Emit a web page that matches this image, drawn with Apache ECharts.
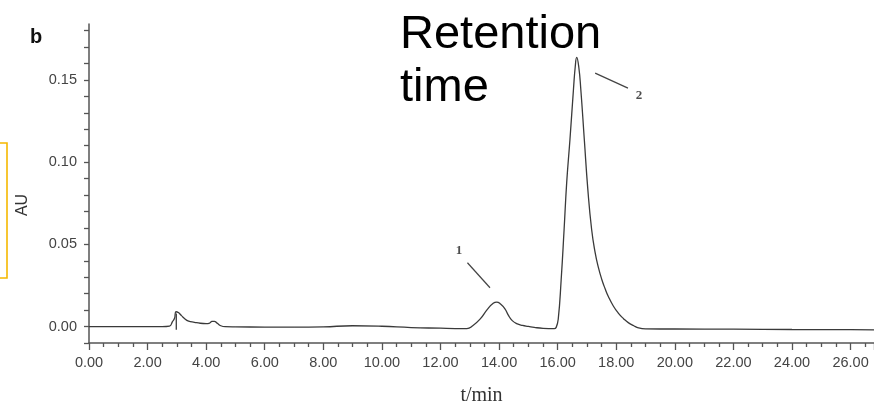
<!DOCTYPE html>
<html>
<head>
<meta charset="utf-8">
<script src="https://cdn.jsdelivr.net/npm/echarts@6/dist/echarts.min.js"></script>
<style>
html,body{margin:0;padding:0;background:#fff;}
#c{width:874px;height:403px;}
</style>
</head>
<body>
<div id="c"></div>
<script>
// Chromatogram: retention time (min) and absorbance (AU)
var times = [0, 0.5, 1, 1.5, 2, 2.5, 2.75, 2.85, 2.92, 2.97, 3.05, 3.15, 3.25, 3.4, 3.6, 3.8, 4.0, 4.1, 4.2, 4.28, 4.38, 4.5, 4.65, 5, 6, 7, 8, 9, 10, 11, 12, 12.5, 12.9, 13.1, 13.35, 13.6, 13.8, 13.92, 14.05, 14.2, 14.32, 14.45, 14.6, 14.8, 15.0, 15.2, 15.5, 15.88, 15.95, 16.02, 16.12, 16.22, 16.31, 16.42, 16.54, 16.6, 16.65, 16.72, 16.79, 16.91, 17.03, 17.16, 17.28, 17.39, 17.51, 17.62, 17.73, 17.9, 18.07, 18.25, 18.41, 18.6, 18.76, 19.0, 20, 22, 24, 26, 26.8];
var absorbance = [0, 0, 0, 0, 0, 0, 0.0003, 0.003, 0.005, 0.009, 0.0085, 0.0068, 0.005, 0.0033, 0.0026, 0.002, 0.0018, 0.002, 0.0031, 0.0032, 0.002, 0.0005, -0.0001, -0.0002, -0.0003, -0.0004, -0.0002, 0.0005, 0.0002, -0.0006, -0.001, -0.0012, -0.0012, 0.0005, 0.0045, 0.0105, 0.0142, 0.0149, 0.0137, 0.0108, 0.0068, 0.0036, 0.0018, 0.0007, 0.0001, -0.0005, -0.0011, -0.0013, -0.0005, 0.0045, 0.0285, 0.059, 0.088, 0.1138, 0.1443, 0.158, 0.1637, 0.158, 0.1443, 0.1138, 0.0834, 0.059, 0.045, 0.036, 0.0285, 0.023, 0.0183, 0.0125, 0.0082, 0.0048, 0.0024, 0.0005, -0.0008, -0.0014, -0.0015, -0.0016, -0.0018, -0.0019, -0.002];
// injection spike (vertical artefact)
var spikeTimes = [2.98, 2.98];
var spikeValues = [0.008, -0.002];
// peak labels and leader lines
var peakLabels = ['1', '2'];
var peakLabelPos = [[12.63, 0.0462], [18.78, 0.1402]];
var peakLeaderStart = [[12.92, 0.0388], [17.28, 0.1541]];
var peakLeaderEnd = [[13.69, 0.0236], [18.40, 0.1450]];

var xMin = 0, xMax = 26.8, xInterval = 2;
var yMin = -0.01, yMax = 0.184, yInterval = 0.01;

var sans = 'Arial, "Liberation Sans", sans-serif';
var serif = '"Times New Roman", "Liberation Serif", serif';
var axisColor = '#555';
var lineColor = '#3a3a3a';

function zip(a, b) { return a.map(function (v, i) { return [v, b[i]]; }); }

var series = [{
  type: 'line',
  data: zip(times, absorbance),
  smooth: 0.5,
  showSymbol: false,
  lineStyle: { color: lineColor, width: 1.3 },
  silent: true
}, {
  type: 'line',
  data: zip(spikeTimes, spikeValues),
  showSymbol: false,
  lineStyle: { color: lineColor, width: 1.3 },
  silent: true
}];
peakLabels.forEach(function (lab, i) {
  series.push({
    type: 'line',
    data: [peakLeaderStart[i], peakLeaderEnd[i]],
    showSymbol: false,
    lineStyle: { color: '#444', width: 1.2 },
    silent: true
  });
  series.push({
    type: 'scatter',
    data: [peakLabelPos[i]],
    symbolSize: 0,
    label: { show: true, position: 'inside', formatter: lab, color: '#222', fontFamily: serif, fontSize: 13, fontWeight: 'bold' },
    silent: true
  });
});

var chart = echarts.init(document.getElementById('c'), null, { renderer: 'canvas' });
chart.setOption({
  animation: false,
  backgroundColor: '#fff',
  grid: { left: 89, right: 0, top: 24, bottom: 60, containLabel: false, outerBoundsMode: 'none' },
  xAxis: {
    type: 'value', min: xMin, max: xMax, interval: xInterval,
    name: 't/min', nameLocation: 'middle', nameGap: 43,
    nameTextStyle: { fontFamily: serif, fontSize: 20, color: '#333' },
    axisLine: { show: true, onZero: false, lineStyle: { color: axisColor, width: 1.5 } },
    axisTick: { show: true, length: 7, lineStyle: { color: axisColor, width: 1.3 } },
    minorTick: { show: true, splitNumber: 4, length: 4, lineStyle: { color: axisColor, width: 1.3 } },
    splitLine: { show: false },
    axisLabel: { margin: 12, fontFamily: sans, fontSize: 14.5, color: '#444', showMaxLabel: false,
      formatter: function (v) { return v.toFixed(2); } }
  },
  yAxis: {
    type: 'value', min: yMin, max: yMax, interval: yInterval,
    axisLine: { show: true, lineStyle: { color: axisColor, width: 1.5 } },
    axisTick: { show: true, length: 5, lineStyle: { color: axisColor, width: 1.3 } },
    splitLine: { show: false },
    axisLabel: { margin: 12, fontFamily: sans, fontSize: 14.5, color: '#444', showMaxLabel: false,
      formatter: function (v) {
        var k = Math.round(v * 100);
        if (k < 0 || k % 5 !== 0) return '';
        return (k / 100).toFixed(2);
      } }
  },
  series: series,
  graphic: [
    { type: 'text', left: 30, top: 27, style: { text: 'b', font: 'bold 20px ' + sans, fill: '#111' } },
    { type: 'text', x: 400, y: 9, style: { text: 'Retention\ntime', font: '47px ' + sans, lineHeight: 53, fill: '#000' } },
    { type: 'text', x: 23, y: 205, rotation: Math.PI / 2, style: { text: 'AU', font: '16px ' + sans, fill: '#333', align: 'center', verticalAlign: 'middle' } },
    { type: 'rect', shape: { x: -10, y: 143, width: 17, height: 135 }, style: { fill: 'none', stroke: '#F5B800', lineWidth: 1.6 } }
  ]
});
</script>
</body>
</html>
